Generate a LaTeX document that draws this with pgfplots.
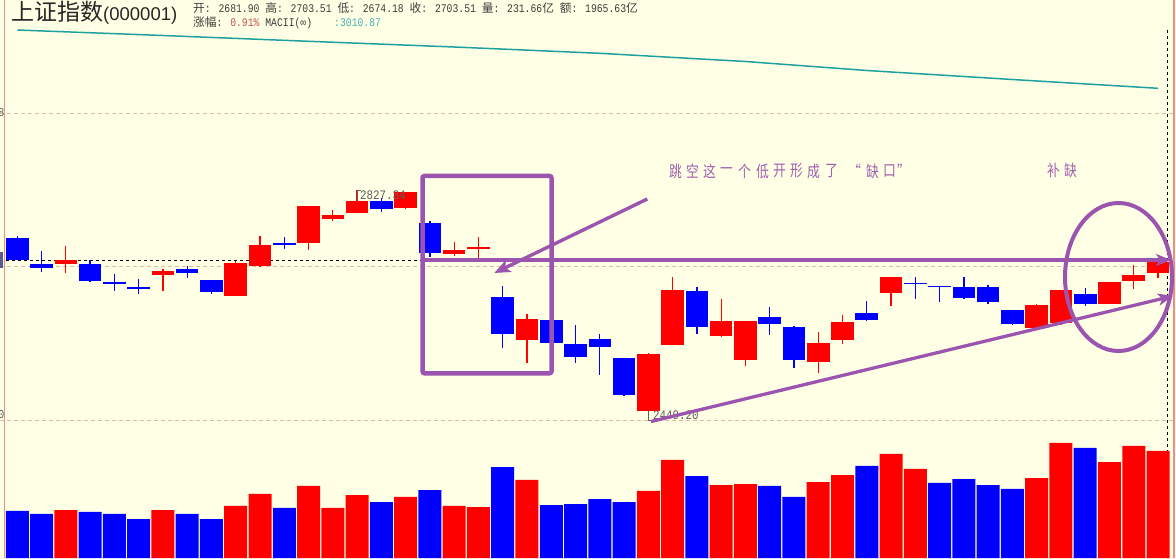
\documentclass[border=0pt]{standalone}
\usepackage{pgfplots}
\pgfplotsset{compat=1.18}
\usepackage{pgfplotstable}
\usepackage{fontspec}
\usetikzlibrary{arrows.meta}
\setmainfont{Liberation Serif}
\newfontfamily\cjk{Noto Sans CJK SC}
\newfontfamily\halfw[FakeStretch=0.8333]{Liberation Mono}
\newfontfamily\lsans{Liberation Sans}

\definecolor{bg}{RGB}{255,255,229}
\definecolor{cred}{RGB}{255,0,0}
\definecolor{cblue}{RGB}{0,0,255}
\definecolor{gridc}{RGB}{214,190,165}
\definecolor{axpink}{RGB}{238,140,140}
\definecolor{mac}{RGB}{30,160,160}
\definecolor{purp}{RGB}{155,85,175}
\definecolor{purptext}{RGB}{160,95,175}
\definecolor{hdr}{RGB}{60,60,60}
\definecolor{pct}{RGB}{200,80,80}
\definecolor{tealtxt}{RGB}{70,175,180}
\definecolor{lbl}{RGB}{95,95,95}
\definecolor{markbox}{RGB}{90,90,150}

% up (red) candles
\pgfplotstableread{
i o h l c
2 2704.82 2735.00 2690.97 2711.42
6 2687.67 2697.07 2661.29 2694.27
9 2653.04 2709.44 2653.04 2707.46
10 2702.51 2751.49 2699.87 2736.64
12 2740.44 2800.96 2728.89 2800.96
13 2780.01 2794.36 2776.72 2786.61
14 2789.91 2827.34 2788.92 2809.70
16 2798.16 2824.04 2796.50 2824.04
18 2721.31 2742.09 2718.51 2728.40
19 2730.54 2749.84 2711.91 2733.35
21 2580.48 2622.86 2542.56 2614.62
26 2462.42 2559.05 2449.20 2556.90
27 2572.57 2683.88 2572.57 2662.44
29 2587.08 2647.60 2585.43 2610.83
30 2547.01 2610.83 2537.12 2610.83
33 2544.21 2593.18 2526.07 2575.04
34 2580.48 2621.71 2573.89 2609.18
36 2657.99 2683.88 2636.55 2683.88
42 2600.27 2639.35 2600.27 2637.70
43 2608.02 2662.44 2605.22 2662.44
45 2639.85 2675.63 2639.85 2675.63
46 2677.78 2703.66 2664.58 2687.17
47 2689.98 2709.11 2682.72 2709.11
}\upc

% down (blue) candles
\pgfplotstableread{
i o h l c
0 2748.19 2751.49 2711.91 2711.91
1 2705.31 2726.75 2692.62 2699.21
3 2705.31 2711.42 2676.13 2677.78
4 2676.13 2688.33 2661.29 2672.83
5 2667.39 2680.58 2655.35 2664.58
7 2697.07 2701.52 2682.72 2689.98
8 2678.93 2678.93 2656.34 2659.64
11 2739.45 2749.34 2730.54 2737.14
15 2809.70 2813.66 2791.56 2796.83
17 2773.42 2776.22 2717.35 2723.95
20 2650.90 2669.53 2567.29 2590.38
22 2612.97 2612.97 2575.54 2575.54
23 2573.39 2604.72 2542.56 2552.45
24 2581.64 2589.88 2522.77 2568.94
25 2550.31 2550.31 2487.65 2489.79
28 2660.79 2667.39 2590.38 2602.25
31 2617.92 2634.41 2588.73 2606.87
32 2601.43 2603.08 2534.31 2547.01
35 2624.51 2644.30 2611.82 2613.46
37 2673.98 2683.88 2648.09 2672.33
38 2669.04 2669.04 2643.15 2667.39
39 2666.89 2683.88 2648.09 2649.25
40 2667.39 2670.68 2639.85 2643.15
41 2629.46 2629.46 2605.22 2606.87
44 2655.84 2666.23 2636.55 2639.85
}\dnc

% volume (yi), red days
\pgfplotstableread{
i v
2 103.9
6 103.9
9 112.6
10 138.6
12 155.9
13 108.3
14 136.4
16 132.1
18 112.6
19 110.4
21 168.9
26 145.1
27 212.2
29 158.0
30 160.2
33 164.5
34 179.7
36 225.2
37 192.7
42 173.2
43 249.0
45 207.8
46 242.5
47 231.66
}\volr

% volume, blue days
\pgfplotstableread{
i v
0 101.8
1 95.3
3 99.6
4 95.3
5 84.4
7 95.3
8 84.4
11 108.3
15 121.2
17 147.2
20 197.0
22 114.7
23 116.9
24 127.7
25 121.2
28 177.5
31 155.9
32 132.1
35 199.2
38 162.4
39 171.0
40 158.0
41 149.4
44 238.2
}\volb

% moving average line
\pgfplotstableread{
i m
0 3091.18
6 3082.11
12 3072.55
18 3063.15
24 3052.76
30 3039.24
35 3024.40
41 3009.55
47 2995.04
}\matab

\begin{document}
\begin{tikzpicture}
\useasboundingbox (0,0) rectangle (1176pt,558pt);
\fill[bg] (0,0) rectangle (1176pt,558pt);
\draw[axpink, line width=1.2pt] (4.3pt,0) -- (4.3pt,558pt);
\draw[axpink, line width=1.2pt] (1174pt,0) -- (1174pt,558pt);

\begin{axis}[at={(0pt,0pt)}, anchor=south west, scale only axis,
  width=1176pt, height=558pt,
  xmin=-0.7128, xmax=47.742, ymin=2220.51, ymax=3140.65, hide axis]
% grid lines
\addplot[gridc, line width=0.8pt, dash pattern=on 4pt off 3pt, forget plot] coordinates {(-0.7128,2954.31) (47.742,2954.31)};
\addplot[gridc, line width=0.8pt, dash pattern=on 4pt off 3pt, forget plot] coordinates {(-0.7128,2702.02) (47.742,2702.02)};
\addplot[gridc, line width=0.8pt, dash pattern=on 4pt off 3pt, forget plot] coordinates {(-0.7128,2448.07) (47.742,2448.07)};
% current price line
\addplot[black, line width=0.9pt, dash pattern=on 3pt off 3pt, forget plot] coordinates {(-0.7128,2711.91) (47.40,2711.91)};
\addplot[black, line width=0.9pt, dash pattern=on 3pt off 3pt, forget plot] coordinates {(47.40,3091.18) (47.40,2220.51)};
% MA line
\addplot[mac, line width=1.5pt, forget plot] table[x=i, y=m] {\matab};
% wicks
\addplot[draw=none, mark=none, forget plot, error bars/.cd, y dir=plus, y explicit, error mark=none,
  error bar style={draw=cred, line width=1.3pt}]
  table[x=i, y=l, y error plus expr={\thisrow{h}-\thisrow{l}}] {\upc};
\addplot[draw=none, mark=none, forget plot, error bars/.cd, y dir=plus, y explicit, error mark=none,
  error bar style={draw=cblue, line width=1.3pt}]
  table[x=i, y=l, y error plus expr={\thisrow{h}-\thisrow{l}}] {\dnc};
% bodies
\addplot[draw=none, mark=none, forget plot, error bars/.cd, y dir=plus, y explicit, error mark=none,
  error bar style={draw=cred, line width=22.6pt}]
  table[x=i, y=o, y error plus expr={\thisrow{c}-\thisrow{o}}] {\upc};
\addplot[draw=none, mark=none, forget plot, error bars/.cd, y dir=plus, y explicit, error mark=none,
  error bar style={draw=cblue, line width=22.6pt}]
  table[x=i, y=c, y error plus expr={\thisrow{o}-\thisrow{c}}] {\dnc};
\end{axis}

\begin{axis}[at={(0pt,0pt)}, anchor=south west, scale only axis,
  width=1176pt, height=558pt,
  xmin=-0.7128, xmax=47.742, ymin=0, ymax=1208.07, hide axis]
\addplot[ybar, bar width=0.948, bar shift=0pt, fill=cred, draw=none] table[x=i, y=v] {\volr};
\addplot[ybar, bar width=0.948, bar shift=0pt, fill=cblue, draw=none] table[x=i, y=v] {\volb};
\end{axis}

\begin{scope}[x=1pt, y=-1pt, shift={(0pt,558pt)}]
% header
\node[anchor=base west, inner sep=0, text=black!85] at (11,21)
  {{\cjk\fontsize{23pt}{23pt}\selectfont 上证指数}{\lsans\fontsize{18.5pt}{18.5pt}\selectfont(000001)}};
\node[anchor=base west, inner sep=0, text=hdr] at (193,13)
  {\fontsize{11.7pt}{11.7pt}\selectfont{\cjk 开}{\halfw: 2681.90 }{\cjk 高}{\halfw: 2703.51 }{\cjk 低}{\halfw: 2674.18 }{\cjk 收}{\halfw: 2703.51 }{\cjk 量}{\halfw: 231.66}{\cjk 亿}{\halfw\ }{\cjk 额}{\halfw: 1965.63}{\cjk 亿}};
\node[anchor=base west, inner sep=0, text=hdr] at (193,27)
  {\fontsize{11.7pt}{11.7pt}\selectfont{\cjk 涨幅}{\halfw: }{\halfw\color{pct}0.91\%}{\halfw\ MACII(∞)}};
\node[anchor=base west, inner sep=0, text=tealtxt] at (334,27)
  {\fontsize{11.7pt}{11.7pt}\selectfont\halfw :3010.87};
% left axis label fragments (cut by the picture edge, as in the original)
\node[anchor=base east, inner sep=0, text=lbl] at (4.5,117) {\fontsize{12pt}{12pt}\selectfont\halfw 2958};
\node[anchor=base east, inner sep=0, text=lbl] at (4.5,418) {\fontsize{12pt}{12pt}\selectfont\halfw 2450};
\fill[markbox] (0,252) rectangle (3.3,268);
% high / low labels
\draw[lbl, line width=0.8pt] (357,200) -- (357,190) -- (361,190);
\node[anchor=west, inner sep=0, text=lbl] at (360,195.5) {\fontsize{13pt}{13pt}\selectfont\halfw 2827.34};
\draw[lbl, line width=0.8pt] (648,411) -- (648,420.5) -- (652,420.5);
\node[anchor=west, inner sep=0, text=lbl] at (653,415.5) {\fontsize{13pt}{13pt}\selectfont\halfw 2449.20};
% annotations
\draw[purp, line width=4.5pt, rounded corners=2pt] (422.5,176) rectangle (551.5,373.3);
\draw[purp, line width=3.4pt, -{Stealth[length=16pt, width=13pt, inset=4pt]}] (647.3,199) -- (494.3,273);
\draw[purp, line width=3.3pt, -{Stealth[length=15pt, width=12pt, inset=4pt]}] (425,260) -- (1171,260);
\draw[purp, line width=3.3pt, -{Stealth[length=15pt, width=12pt, inset=4pt]}] (651,421.5) -- (1173,296);
\draw[purp, line width=4pt] (1118.5,277) ellipse [x radius=53.5, y radius=74];
\foreach \x/\ch in {669/跳,686/空,703/这,720/一,738/个,756/低,773/开,790/形,807/成,825/了,848/“,866/缺,883/口,897/”}
  \node[anchor=west, inner sep=0, xscale=0.8, text=purptext] at (\x,171) {\fontsize{16pt}{16pt}\selectfont\cjk \ch};
\foreach \x/\ch in {1047/补,1064/缺}
  \node[anchor=west, inner sep=0, xscale=0.8, text=purptext] at (\x,170) {\fontsize{16pt}{16pt}\selectfont\cjk \ch};
\end{scope}
\end{tikzpicture}
\end{document}
